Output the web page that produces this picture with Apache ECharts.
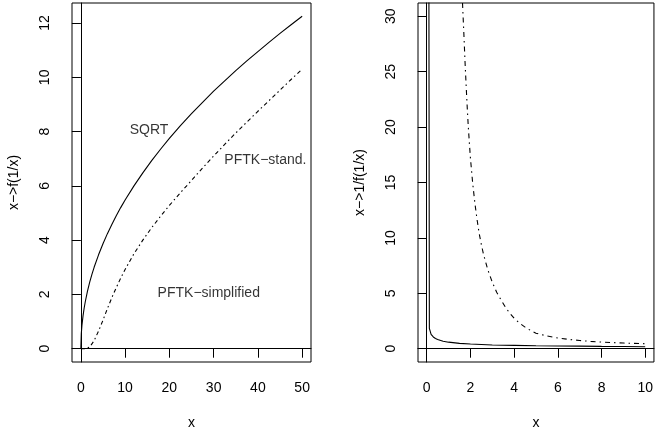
<!DOCTYPE html>
<html><head><meta charset="utf-8">
<script src="https://cdn.jsdelivr.net/npm/echarts@6/dist/echarts.min.js"></script>
<style>html,body{margin:0;padding:0;background:#fff}#c{width:656px;height:436px}</style>
</head><body><div id="c"></div>
<script>
// ---------- Left panel: x -> f(1/x) ----------
const leftLimX = [0, 50];
const leftLimY = [0, 12.25];
const leftTicksX = [0, 10, 20, 30, 40, 50];
const leftTicksY = [0, 2, 4, 6, 8, 10, 12];
const sqrtX = [0, 0.1, 0.25, 0.5, 0.75, 1, 1.5, 2, 2.5, 3, 4, 5, 6, 7, 8, 9, 10, 12, 14, 16, 18, 20, 22.5, 25, 27.5, 30, 32.5, 35, 37.5, 40, 42.5, 45, 47.5, 50];
const sqrtY = [0, 0.55, 0.87, 1.22, 1.5, 1.73, 2.12, 2.45, 2.74, 3.0, 3.46, 3.87, 4.24, 4.58, 4.9, 5.2, 5.48, 6.0, 6.48, 6.93, 7.35, 7.75, 8.22, 8.66, 9.08, 9.49, 9.87, 10.25, 10.61, 10.95, 11.29, 11.62, 11.94, 12.25];
const pftkX = [0, 1, 2, 3, 4, 5, 6, 7, 8, 9, 10, 12, 14, 16, 18, 20, 22.5, 25, 27.5, 30, 32.5, 35, 37.5, 40, 42.5, 45, 47.5, 50];
const pftkY = [0, 0, 0.06, 0.3, 0.65, 1.05, 1.48, 1.88, 2.25, 2.6, 2.92, 3.5, 4.0, 4.46, 4.88, 5.28, 5.75, 6.2, 6.66, 7.1, 7.53, 7.95, 8.35, 8.75, 9.14, 9.53, 9.92, 10.3];
const leftNotes = ["SQRT", "PFTK\u2212stand.", "PFTK\u2212simplified"];
const leftNoteX = [15.4, 41.7, 28.9];
const leftNoteY = [8.05, 6.95, 2.05];

// ---------- Right panel: x -> 1/f(1/x) ----------
const rightLimX = [0, 10];
const rightLimY = [0, 30];
const rightTicksX = [0, 2, 4, 6, 8, 10];
const rightTicksY = [0, 5, 10, 15, 20, 25, 30];
const invSqrtX = [0.08, 0.12, 0.2, 0.3, 0.4, 0.5, 0.75, 1, 1.5, 2, 3, 4, 5, 6, 7, 8, 9, 10];
const invSqrtY = [60, 1.84, 1.3, 1.06, 0.92, 0.83, 0.68, 0.59, 0.48, 0.42, 0.34, 0.3, 0.27, 0.25, 0.23, 0.21, 0.2, 0.18];
const invPftkX = [1.6, 1.65, 1.7, 1.75, 1.8, 1.85, 1.9, 1.95, 2.0, 2.1, 2.2, 2.3, 2.4, 2.5, 2.6, 2.8, 3.0, 3.2, 3.4, 3.6, 3.8, 4.0, 4.25, 4.5, 4.75, 5.0, 5.5, 6.0, 6.5, 7.0, 7.5, 8.0, 8.5, 9.0, 9.5, 10.0];
const invPftkY = [33, 30.6, 28.4, 26.0, 23.9, 21.9, 20.1, 18.6, 17.2, 15.0, 13.2, 11.7, 10.4, 9.4, 8.5, 7.1, 6.0, 5.1, 4.4, 3.75, 3.2, 2.75, 2.3, 1.95, 1.65, 1.4, 1.15, 0.97, 0.84, 0.74, 0.66, 0.6, 0.55, 0.51, 0.48, 0.45];

const FONT = 'Liberation Sans, Arial, sans-serif';
const zip = (xs, ys) => xs.map((x, i) => [x, ys[i]]);
const pad = lim => { const d = (lim[1] - lim[0]) * 0.04; return [lim[0] - d, lim[1] + d]; };

function xAx(gi, lim, ticks) {
  const [mn, mx] = pad(lim);
  return {
    type: 'value', gridIndex: gi, min: mn, max: mx, name: 'x',
    nameLocation: 'middle', nameGap: 54,
    nameTextStyle: { color: '#000', fontSize: 14, fontFamily: FONT },
    axisLine: { show: true, lineStyle: { color: '#000', width: 1 } },
    axisTick: { show: true, length: 9, customValues: ticks, lineStyle: { color: '#000' } },
    axisLabel: { customValues: ticks, color: '#000', fontSize: 14, fontFamily: FONT, margin: 19 },
    splitLine: { show: false }
  };
}
function yAx(gi, lim, ticks, name) {
  const [mn, mx] = pad(lim);
  return {
    type: 'value', gridIndex: gi, min: mn, max: mx, name: name,
    nameLocation: 'middle', nameGap: 51, nameRotate: 90,
    nameTextStyle: { color: '#000', fontSize: 14, fontFamily: FONT },
    axisLine: { show: true, lineStyle: { color: '#000', width: 1 } },
    axisTick: { show: true, length: 9, customValues: ticks, lineStyle: { color: '#000' } },
    axisLabel: { customValues: ticks, color: '#000', fontSize: 14, fontFamily: FONT, margin: 20, rotate: 90 },
    splitLine: { show: false }
  };
}
function line(xi, yi, data, type) {
  return {
    type: 'line', xAxisIndex: xi, yAxisIndex: yi, data: data, showSymbol: false,
    symbol: 'none', smooth: false, clip: true,
    lineStyle: { color: '#000', width: 1.1, type: type }, silent: true
  };
}

const chart = echarts.init(document.getElementById('c'), null, { renderer: 'canvas' });
chart.setOption({
  animation: false,
  backgroundColor: '#fff',
  grid: [
    { left: 72, top: 3, width: 239, height: 359, show: true, borderColor: '#000', borderWidth: 1, backgroundColor: 'transparent' },
    { left: 418, top: 3, width: 241, height: 359, show: true, borderColor: '#000', borderWidth: 1, backgroundColor: 'transparent' }
  ],
  xAxis: [xAx(0, leftLimX, leftTicksX), xAx(1, rightLimX, rightTicksX)],
  yAxis: [yAx(0, leftLimY, leftTicksY, 'x\u2212>f(1/x)'), yAx(1, rightLimY, rightTicksY, 'x\u2212>1/f(1/x)')],
  series: [
    line(0, 0, zip(sqrtX, sqrtY), 'solid'),
    line(0, 0, zip(pftkX, pftkY), [4, 3, 1.5, 3]),
    line(1, 1, zip(invSqrtX, invSqrtY), 'solid'),
    line(1, 1, zip(invPftkX, invPftkY), [1.5, 4, 5, 4]),
    {
      type: 'scatter', xAxisIndex: 0, yAxisIndex: 0, symbolSize: 1, silent: true,
      itemStyle: { color: 'rgba(0,0,0,0)' },
      data: leftNotes.map((t, i) => ({ name: t, value: [leftNoteX[i], leftNoteY[i]] })),
      label: { show: true, position: 'inside', formatter: p => p.name, color: '#000', fontSize: 14, fontFamily: FONT }
    }
  ]
});
</script>
</body></html>
